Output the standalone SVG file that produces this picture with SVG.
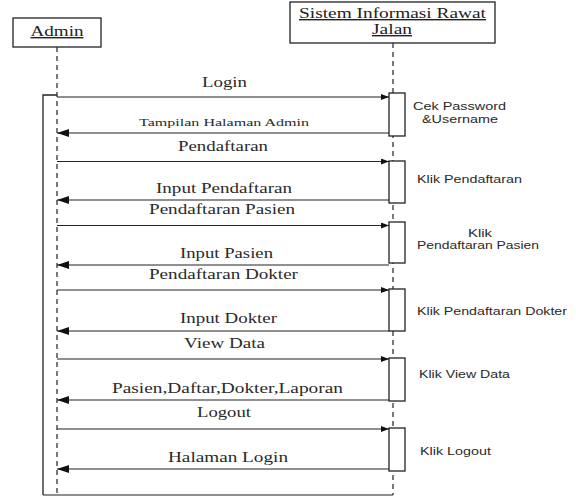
<svg xmlns="http://www.w3.org/2000/svg" width="576" height="497" viewBox="0 0 576 497">
  <style>
    .box { fill: #fff; stroke: #222; stroke-width: 1.3; }
    .life { fill: none; stroke: #333; stroke-width: 1.3; stroke-dasharray: 5 4; }
    .msg { fill: none; stroke: #222; stroke-width: 1.2; }
    .call { marker-end: url(#headCall); }
    .ret { marker-end: url(#headRet); }
    .lbl { font-family: "Liberation Serif", "Times New Roman", serif; font-size: 15px; fill: #2a2a2a; }
    .small { font-size: 11px; }
    .title { font-family: "Liberation Serif", "Times New Roman", serif; font-size: 14px; fill: #222; text-decoration: underline; }
    .note { font-family: "Liberation Sans", Arial, sans-serif; font-size: 10.5px; fill: #2a2a2a; }
  </style>
  <defs>
    <marker id="headCall" markerUnits="userSpaceOnUse" markerWidth="8" markerHeight="6" refX="8" refY="3" orient="auto">
      <path d="M0,0 L8,3 L0,6 Z" fill="#111"/>
    </marker>
    <marker id="headRet" markerUnits="userSpaceOnUse" markerWidth="12" markerHeight="8" refX="12" refY="4" orient="auto">
      <path d="M0,0 L12,4 L0,8 Z" fill="#111"/>
    </marker>
  </defs>

  <rect width="576" height="497" fill="#fff"/>

  <!-- Admin lifeline -->
  <g id="admin">
    <rect class="box" x="13" y="18" width="88" height="29"/>
    <text class="title" x="57" y="36" text-anchor="middle" textLength="53" lengthAdjust="spacingAndGlyphs">Admin</text>
    <line class="life" x1="57" y1="47" x2="57" y2="495"/>
    <path d="M57,95 H43 V495" fill="none" stroke="#222" stroke-width="1.3"/>
  </g>

  <!-- System lifeline -->
  <g id="sistem">
    <rect class="box" x="290" y="2" width="205" height="41"/>
    <text class="title" x="392.5" y="18" text-anchor="middle" textLength="187" lengthAdjust="spacingAndGlyphs">Sistem Informasi Rawat</text>
    <text class="title" x="392" y="34" text-anchor="middle" textLength="40" lengthAdjust="spacingAndGlyphs">Jalan</text>
    <line class="life" x1="393" y1="43" x2="393" y2="495"/>
  </g>

  <!-- activation bars on the system lifeline -->
  <g id="act1"><rect class="box" x="389" y="93" width="16" height="43"/>
    <text class="note" x="413" y="110" textLength="93" lengthAdjust="spacingAndGlyphs">Cek Password</text>
    <text class="note" x="422" y="123" textLength="76" lengthAdjust="spacingAndGlyphs">&amp;Username</text></g>
  <g id="act2"><rect class="box" x="389" y="161" width="16" height="42"/>
    <text class="note" x="417" y="183" textLength="105" lengthAdjust="spacingAndGlyphs">Klik Pendaftaran</text></g>
  <g id="act3"><rect class="box" x="389" y="222" width="16" height="41"/>
    <text class="note" x="480" y="237" text-anchor="middle" textLength="24" lengthAdjust="spacingAndGlyphs">Klik</text>
    <text class="note" x="417" y="249" textLength="122" lengthAdjust="spacingAndGlyphs">Pendaftaran Pasien</text></g>
  <g id="act4"><rect class="box" x="389" y="289" width="16" height="42"/>
    <text class="note" x="417" y="315" textLength="150" lengthAdjust="spacingAndGlyphs">Klik Pendaftaran Dokter</text></g>
  <g id="act5"><rect class="box" x="389" y="358" width="16" height="43"/>
    <text class="note" x="419" y="378" textLength="91" lengthAdjust="spacingAndGlyphs">Klik View Data</text></g>
  <g id="act6"><rect class="box" x="389" y="428" width="16" height="43"/>
    <text class="note" x="420" y="455" textLength="71" lengthAdjust="spacingAndGlyphs">Klik Logout</text></g>

  <!-- messages -->
  <g id="connectors">
    <line class="msg call" x1="57" y1="97" x2="389" y2="97"/>
    <line class="msg ret" x1="389" y1="133" x2="57" y2="133"/>
    <line class="msg call" x1="57" y1="161.5" x2="389" y2="161.5"/>
    <line class="msg ret" x1="389" y1="200" x2="57" y2="200"/>
    <line class="msg call" x1="57" y1="225.5" x2="389" y2="225.5"/>
    <line class="msg ret" x1="389" y1="265" x2="57" y2="265"/>
    <line class="msg call" x1="57" y1="290" x2="389" y2="290"/>
    <line class="msg ret" x1="389" y1="331" x2="57" y2="331"/>
    <line class="msg call" x1="57" y1="359" x2="389" y2="359"/>
    <line class="msg ret" x1="389" y1="400" x2="57" y2="400"/>
    <line class="msg call" x1="57" y1="429" x2="389" y2="429"/>
    <line class="msg ret" x1="389" y1="469" x2="57" y2="469"/>
    <line class="msg" x1="43" y1="495" x2="393" y2="495"/>
  </g>

  <!-- message labels -->
  <g id="labels">
    <text class="lbl" x="224.5" y="87" text-anchor="middle" textLength="45" lengthAdjust="spacingAndGlyphs">Login</text>
    <text class="lbl small" x="224" y="126" text-anchor="middle" textLength="170" lengthAdjust="spacingAndGlyphs">Tampilan Halaman Admin</text>
    <text class="lbl" x="223" y="151" text-anchor="middle" textLength="90" lengthAdjust="spacingAndGlyphs">Pendaftaran</text>
    <text class="lbl" x="224" y="193" text-anchor="middle" textLength="136" lengthAdjust="spacingAndGlyphs">Input Pendaftaran</text>
    <text class="lbl" x="222" y="214" text-anchor="middle" textLength="146" lengthAdjust="spacingAndGlyphs">Pendaftaran Pasien</text>
    <text class="lbl" x="226.5" y="258" text-anchor="middle" textLength="93" lengthAdjust="spacingAndGlyphs">Input Pasien</text>
    <text class="lbl" x="223.5" y="279" text-anchor="middle" textLength="149" lengthAdjust="spacingAndGlyphs">Pendaftaran Dokter</text>
    <text class="lbl" x="228.5" y="323" text-anchor="middle" textLength="97" lengthAdjust="spacingAndGlyphs">Input Dokter</text>
    <text class="lbl" x="224.5" y="348" text-anchor="middle" textLength="81" lengthAdjust="spacingAndGlyphs">View Data</text>
    <text class="lbl" x="227.5" y="393" text-anchor="middle" textLength="231" lengthAdjust="spacingAndGlyphs">Pasien,Daftar,Dokter,Laporan</text>
    <text class="lbl" x="224" y="417" text-anchor="middle" textLength="54" lengthAdjust="spacingAndGlyphs">Logout</text>
    <text class="lbl" x="228" y="462" text-anchor="middle" textLength="120" lengthAdjust="spacingAndGlyphs">Halaman Login</text>
  </g>
</svg>
